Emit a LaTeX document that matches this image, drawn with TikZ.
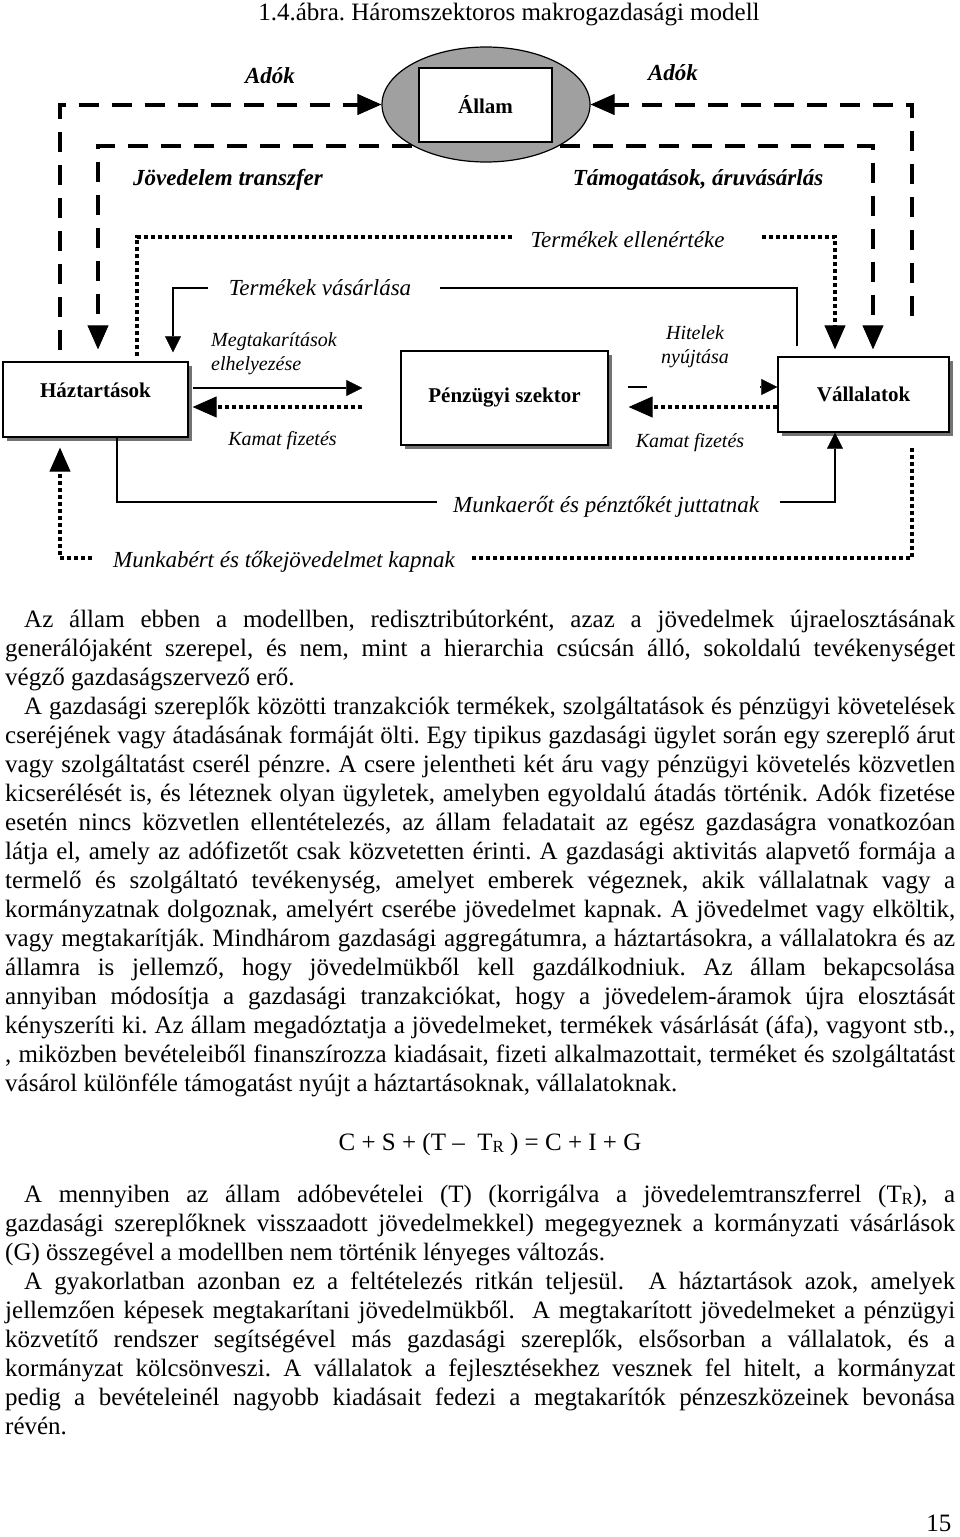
\documentclass[tikz,border=0pt]{standalone}
\usepackage{fontspec}
\setmainfont{Liberation Serif}
\usepackage{tikz}
\usepackage{graphicx}
\usetikzlibrary{calc,shapes.geometric,shadows,arrows.meta}
\frenchspacing
\definecolor{allamszin}{HTML}{A0A0A0}
\colorlet{arnyek}{black!55}
\newcommand{\jline}[1]{% justified line
\setbox0=\hbox{#1}%
\ifdim\wd0>\linewidth\hbox{\resizebox{\linewidth}{\height}{#1}}%
\else\hbox to\linewidth{#1}\fi}
\newcommand{\lline}[1]{\hbox{#1}}
\newcommand{\TR}{\raisebox{-2.5pt}{\fontsize{17}{20}\selectfont R}}
\tikzstyle{doboz} = [
    draw,
    line width=1.3pt,
    fill=white,
    inner sep=0pt,
    font=\bfseries\fontsize{21}{25}\selectfont,
    drop shadow={shadow xshift=4pt, shadow yshift=-4pt, fill=arnyek, opacity=1}
    ]
\tikzstyle{szagg} = [line width=4pt, dash pattern=on 20pt off 13pt]
\tikzstyle{pont} = [line width=4pt, dash pattern=on 4pt off 3pt]
\tikzstyle{vonal} = [line width=1.3pt]
\tikzstyle{nagyhegy} = [-{Triangle[length=24pt,width=21pt,line width=1pt]}]
\tikzstyle{kishegy} = [-{Triangle[length=16pt,width=16pt,line width=0.5pt]}]
\tikzstyle{felirat} = [inner sep=0pt, font=\itshape\fontsize{23}{27}\selectfont]
\tikzstyle{vfelirat} = [inner sep=0pt, font=\bfseries\itshape\fontsize{23}{27}\selectfont]
\tikzstyle{kfelirat} = [inner sep=0pt, font=\itshape\fontsize{20}{24}\selectfont]
\begin{document}
\begin{tikzpicture}[x=1pt,y=-1pt]
\useasboundingbox (0,0) rectangle (960,1537);

\node[anchor=base, font=\fontsize{25}{29}\selectfont] (cim) at (509,20) {1.4.ábra. Háromszektoros makrogazdasági modell};

% szereplok
\node[ellipse, draw, line width=1.2pt, fill=allamszin, minimum width=208pt, minimum height=115pt] (allam) at (486,104.5) {};
\node[draw, line width=1.2pt, fill=white, minimum width=133pt, minimum height=74pt, font=\bfseries\fontsize{21}{25}\selectfont] (allamlap) at (485.5,105) {Állam};
\node[doboz, minimum width=185pt, minimum height=75pt, text depth=18pt] (hazt) at (95.5,399.5) {Háztartások};
\node[doboz, minimum width=207pt, minimum height=94pt] (pen) at (504.5,398) {Pénzügyi szektor};
\node[doboz, minimum width=171pt, minimum height=75pt] (vall) at (863.5,394.5) {Vállalatok};

% allam
\coordinate (adobal) at (60,350);
\coordinate (adojobb) at (912,316);
\draw[szagg, nagyhegy] (adobal) |- (allam.west);
\draw[szagg, nagyhegy] (adojobb) |- (allam.east);
\draw[szagg, nagyhegy] (allam.south west) -| ($(hazt.north)+(2.5,-12)$);
\draw[szagg, nagyhegy] (allam.south east) -| ($(vall.north)+(9.5,-7)$);
\node[vfelirat, anchor=base] (adok1) at (270,83) {Adók};
\node[vfelirat, anchor=base] (adok2) at (673,80) {Adók};
\node[vfelirat, anchor=base] (transz) at (228,185) {Jövedelem transzfer};
\node[vfelirat, anchor=base] (tamog) at (698,185) {Támogatások, áruvásárlás};

% termekek
\node[felirat, anchor=base] (ellen) at (627.5,247) {Termékek ellenértéke};
\coordinate (ellen1) at (513,237);
\coordinate (ellen2) at (762,237);
\draw[pont] ($(hazt.north)+(41.5,-5)$) |- (ellen1);
\draw[pont, nagyhegy] (ellen2) -| ($(vall.north)+(-28.5,-7)$);
\node[felirat, anchor=base] (vasar) at (320,295) {Termékek vásárlása};
\coordinate (vasar1) at (208,288);
\coordinate (vasar2) at (440,288);
\draw[vonal] ($(vall.north)+(-66.5,-10)$) |- (vasar2);
\draw[vonal, kishegy] (vasar1) -| ($(hazt.north)+(77.5,-9)$);

% penzugyi szektor
\draw[vonal, kishegy] ($(hazt.east)+(4,-11.5)$) -- ($(pen.west)+(-38,-10)$);
\draw[pont, nagyhegy] ($(pen.west)+(-38,9)$) -- ($(hazt.east)+(4,7.5)$);
\node[kfelirat, align=left] (megt) at (274,354) {Megtakarítások\\elhelyezése};
\node[kfelirat, anchor=base] (kamat1) at (282.5,445) {Kamat fizetés};
\draw[vonal] ($(pen.east)+(19,-11)$) -- ($(pen.east)+(38,-11)$);
\draw[vonal, kishegy] ($(vall.west)+(-17,-7.5)$) -- ($(vall.west)+(0,-7.5)$);
\draw[pont, nagyhegy] ($(vall.west)+(0,12.5)$) -- ($(pen.east)+(20,9)$);
\node[kfelirat, align=center] (hitel) at (695,347) {Hitelek\\nyújtása};
\node[kfelirat, anchor=base] (kamat2) at (690,447) {Kamat fizetés};

% munka
\node[felirat, anchor=base west] (munkaero) at (453,512) {Munkaerőt és pénztőkét juttatnak};
\coordinate (munka1) at (437,502);
\coordinate (munka2) at (780,502);
\draw[vonal] ($(hazt.south)+(21.5,0)$) |- (munka1);
\draw[vonal, kishegy] (munka2) -| ($(vall.south)+(-28.5,0)$);
\node[felirat, anchor=base west] (munkaber) at (113,567) {Munkabért és tőkejövedelmet kapnak};
\coordinate (ber1) at (92,558);
\coordinate (ber2) at (470,558);
\draw[pont] ($(vall.south)+(48.5,15)$) |- (ber2);
\draw[pont, nagyhegy] (ber1) -| ($(hazt.south)+(-35.5,10)$);

% szoveg
\node[anchor=base west, inner sep=0pt] (szoveg1) at (5,627) {%
    \begin{minipage}[t]{950pt}\fontsize{25}{29}\selectfont\lineskiplimit=-20pt
\jline{\kern19pt Az állam ebben a modellben, redisztribútorként, azaz a jövedelmek újraelosztásának}
\jline{generálójaként szerepel, és nem, mint a hierarchia csúcsán álló, sokoldalú tevékenységet}
\lline{végző gazdaságszervező erő.}
\jline{\kern19pt A gazdasági szereplők közötti tranzakciók termékek, szolgáltatások és pénzügyi követelések}
\jline{cseréjének vagy átadásának formáját ölti. Egy tipikus gazdasági ügylet során egy szereplő árut}
\jline{vagy szolgáltatást cserél pénzre. A csere jelentheti két áru vagy pénzügyi követelés közvetlen}
\jline{kicserélését is, és léteznek olyan ügyletek, amelyben egyoldalú átadás történik. Adók fizetése}
\jline{esetén nincs közvetlen ellentételezés, az állam feladatait az egész gazdaságra vonatkozóan}
\jline{látja el, amely az adófizetőt csak közvetetten érinti. A gazdasági aktivitás alapvető formája a}
\jline{termelő és szolgáltató tevékenység, amelyet emberek végeznek, akik vállalatnak vagy a}
\jline{kormányzatnak dolgoznak, amelyért cserébe jövedelmet kapnak. A jövedelmet vagy elköltik,}
\jline{vagy megtakarítják. Mindhárom gazdasági aggregátumra, a háztartásokra, a vállalatokra és az}
\jline{államra is jellemző, hogy jövedelmükből kell gazdálkodniuk. Az állam bekapcsolása}
\jline{annyiban módosítja a gazdasági tranzakciókat, hogy a jövedelem-áramok újra elosztását}
\jline{kényszeríti ki. Az állam megadóztatja a jövedelmeket, termékek vásárlását (áfa), vagyont stb.,}
\jline{, miközben bevételeiből finanszírozza kiadásait, fizeti alkalmazottait, terméket és szolgáltatást}
\lline{vásárol különféle támogatást nyújt a háztartásoknak, vállalatoknak.}
    \end{minipage}
};
\node[anchor=base, font=\fontsize{25}{29}\selectfont] (keplet) at (490,1150) {C + S + (T –\ \ T\TR\ ) = C + I + G};
\node[anchor=base west, inner sep=0pt] (szoveg2) at (5,1202) {%
    \begin{minipage}[t]{950pt}\fontsize{25}{29}\selectfont\lineskiplimit=-20pt
\jline{\kern19pt A mennyiben az állam adóbevételei (T) (korrigálva a jövedelemtranszferrel (T\TR), a}
\jline{gazdasági szereplőknek visszaadott jövedelmekkel) megegyeznek a kormányzati vásárlások}
\lline{(G) összegével a modellben nem történik lényeges változás.}
\jline{\kern19pt A gyakorlatban azonban ez a feltételezés ritkán teljesül.\ \ A háztartások azok, amelyek}
\jline{jellemzően képesek megtakarítani jövedelmükből.\ \ A megtakarított jövedelmeket a pénzügyi}
\jline{közvetítő rendszer segítségével más gazdasági szereplők, elsősorban a vállalatok, és a}
\jline{kormányzat kölcsönveszi. A vállalatok a fejlesztésekhez vesznek fel hitelt, a kormányzat}
\jline{pedig a bevételeinél nagyobb kiadásait fedezi a megtakarítók pénzeszközeinek bevonása}
\lline{révén.}
    \end{minipage}
};
\node[anchor=base east, font=\fontsize{25}{29}\selectfont] (oldal) at (955,1531) {15};
\end{tikzpicture}
\end{document}
